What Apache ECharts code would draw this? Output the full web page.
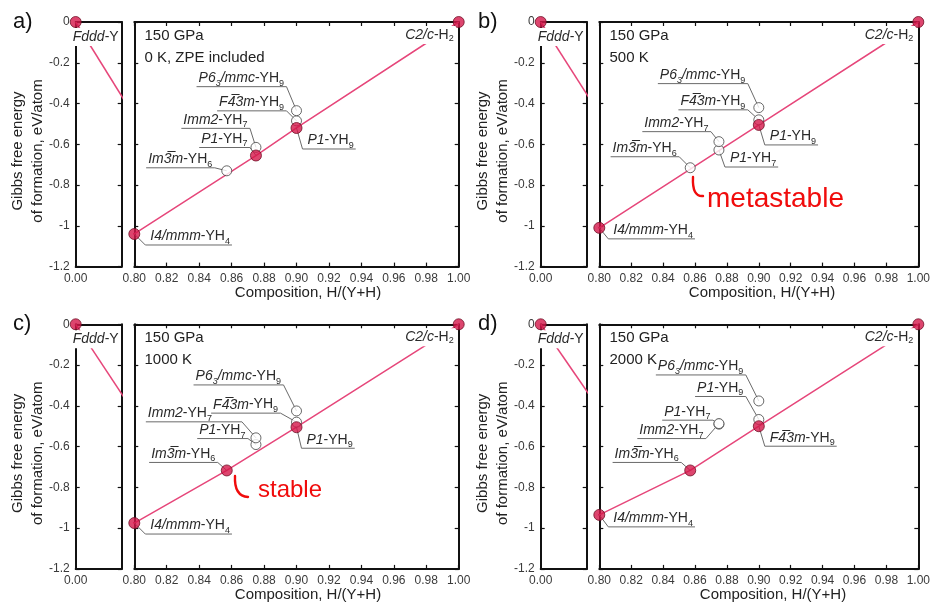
<!DOCTYPE html>
<html>
<head>
<meta charset="utf-8">
<script src="https://cdn.jsdelivr.net/npm/echarts@6/dist/echarts.min.js"></script>
<style>
  html, body { margin: 0; padding: 0; background: #fff; }
  #chart { width: 933px; height: 606px; }
</style>
</head>
<body>
<div id="chart"></div>
<script>
// Convex hulls of the Y–H system at 150 GPa for four temperatures

const panelTags = ['a)', 'b)', 'c)', 'd)'];
const pressureLabel = '150 GPa';
const conditionLabels = ['0 K, ZPE included', '500 K', '1000 K', '2000 K'];

// hydride phases: space group (italic, "_d" = subscript) and formula
const phaseGroups   = ['I4/mmm', 'Im3\u0305m', 'P1', 'Imm2', 'P1', 'F4\u03053m', 'P6_3/mmc'];
const phaseFormulas = ['YH_4', 'YH_6', 'YH_7', 'YH_7', 'YH_9', 'YH_9', 'YH_9'];
const phaseX        = [0.800, 0.857, 0.875, 0.875, 0.900, 0.900, 0.900];

// Gibbs free energy of formation, eV/atom
const energy0K    = [-1.040, -0.730, -0.655, -0.615, -0.520, -0.485, -0.435];
const energy500K  = [-1.010, -0.715, -0.628, -0.587, -0.505, -0.480, -0.420];
const energy1000K = [-0.975, -0.717, -0.590, -0.557, -0.505, -0.480, -0.425];
const energy2000K = [-0.935, -0.717, -0.490, -0.487, -0.467, -0.500, -0.376];

// 1 = phase lies on the hull (stable)
const onHull0K    = [1, 0, 1, 0, 1, 0, 0];
const onHull500K  = [1, 0, 0, 0, 1, 0, 0];
const onHull1000K = [1, 1, 0, 0, 1, 0, 0];
const onHull2000K = [1, 1, 0, 0, 0, 1, 0];

// terminal elements
const elementGroups   = ['Fddd', 'C2/c'];
const elementFormulas = ['Y', 'H_2'];
const elementX        = [0.00, 1.00];
const elementEnergy   = [0, 0];

// tick labels
const xTickLabelsRight = ['0.80', '0.82', '0.84', '0.86', '0.88', '0.90', '0.92', '0.94', '0.96', '0.98', '1.00'];
const xTickLabelLeft   = '0.00';
const yTickLabels      = ['0', '-0.2', '-0.4', '-0.6', '-0.8', '-1', '-1.2'];

const xAxisTitle = 'Composition, H/(Y+H)';
const yAxisTitle = 'Gibbs free energy\nof formation, eV/atom';

// hand-written notes
const noteTexts = ['metastable', 'stable'];

const energies = [energy0K, energy500K, energy1000K, energy2000K];
const onHull   = [onHull0K, onHull500K, onHull1000K, onHull2000K];

// ---------- layout ----------
const FONT = "'Liberation Sans', Arial, Helvetica, sans-serif";
const panelShift = [[0, 0], [465, 0], [0, 302.3], [465, 302.3]];
const leftBox  = { x: 75.7, w: 46, y: 22, h: 244.6 };
const rightBox = { x: 134.3, w: 324.4 };
const xTitleCenter = [308, 297, 308, 308];

// callout leader end relative to the marker: [dx, dy, gap]
const calloutOffsets = [
  [[11, 11], [-12, -3], [-6, -8], [-6, -19], [6, 21], [-10, -10], [-10, -24]],
  [[9, 11], [-11, -11], [6, 17], [-8, -10], [6, 20], [-11, -10], [-11, -24]],
  [[11, 11], [-9, -8], [-8, -6], [-14, -16, 30], [5, 21], [-16, -9], [-13, -26]],
  [[9, 12], [-9, -8], [-6, -4], [-13, 15], [-13, -23], [6, 20], [-13, -26]]
];

const RED_LINE = '#e6467a';
const RED_FILL = '#d4174a';
const RED_EDGE = '#701027';
const AXIS = '#111';
const TEXT = '#2a2a2a';

// ---------- text helpers ----------
const measureCtx = document.createElement('canvas').getContext('2d');
function textWidth(str, font) { measureCtx.font = font; return measureCtx.measureText(str).width; }

const FONTS = {
  i:  'italic 14px ' + FONT,
  is: 'italic 9px ' + FONT,
  n:  '14px ' + FONT,
  s:  '9px ' + FONT
};

function nameTokens(group, formula) {
  const out = [];
  group.split(/_(\d)/).forEach((t, k) => { if (t) out.push({ k: k % 2 ? 'is' : 'i', t }); });
  out.push({ k: 'n', t: '-' });
  formula.split(/_(\d)/).forEach((t, k) => { if (t) out.push({ k: k % 2 ? 's' : 'n', t }); });
  out.forEach(o => { o.w = textWidth(o.t, FONTS[o.k]); });
  return out;
}
const phaseTokens = phaseGroups.map((g, i) => nameTokens(g, phaseFormulas[i]));

function richString(group, formula) {
  return nameTokens(group, formula).map(o => '{' + o.k + '|' + o.t + '}').join('');
}
const plainRich = { color: TEXT, textBorderWidth: 0, textShadowBlur: 0, opacity: 1 };
const labelRich = {
  i:  Object.assign({ fontStyle: 'italic', fontSize: 14, fontFamily: FONT, lineHeight: 16 }, plainRich),
  is: Object.assign({ fontStyle: 'italic', fontSize: 9, fontFamily: FONT, verticalAlign: 'bottom', lineHeight: 10 }, plainRich),
  n:  Object.assign({ fontSize: 14, fontFamily: FONT, lineHeight: 16 }, plainRich),
  s:  Object.assign({ fontSize: 9, fontFamily: FONT, verticalAlign: 'bottom', lineHeight: 10 }, plainRich)
};

// ---------- axes ----------
const yTickValues = yTickLabels.map(Number);
const yMin = Math.min(...yTickValues), yMax = Math.max(...yTickValues);
const yStep = Math.abs(yTickValues[1] - yTickValues[0]);
const xRightValues = xTickLabelsRight.map(Number);
const xRightMin = xRightValues[0], xRightMax = xRightValues[xRightValues.length - 1];
const xRightStep = +(xRightValues[1] - xRightValues[0]).toFixed(4);
const xLeftMin = Number(xTickLabelLeft), xLeftMax = 0.28;

const grids = [], xAxes = [], yAxes = [], series = [], graphics = [];

const lineAxis = { onZero: false, lineStyle: { color: AXIS, width: 2 } };
const innerTick = { inside: true, length: 4, lineStyle: { color: AXIS, width: 1.2 } };

function yLabel(v) {
  const k = yTickValues.findIndex(t => Math.abs(t - v) < 1e-6);
  return k >= 0 ? yTickLabels[k] : '';
}

function elementLabel(k, offset, align) {
  return {
    show: true, position: 'inside', offset, align,
    color: TEXT, textBorderWidth: 0, opacity: 1,
    formatter: richString(elementGroups[k], elementFormulas[k]), rich: labelRich,
    backgroundColor: '#fff', padding: [1, 2, 1, 2]
  };
}

for (let p = 0; p < 4; p++) {
  const [sx, sy] = panelShift[p];
  const gL = grids.length;
  grids.push({ left: sx + leftBox.x, top: sy + leftBox.y, width: leftBox.w, height: leftBox.h });
  const gR = grids.length;
  grids.push({ left: sx + rightBox.x, top: sy + leftBox.y, width: rightBox.w, height: leftBox.h });

  // left (elemental Y) section
  const xL = xAxes.length;
  xAxes.push({
    gridIndex: gL, type: 'value', min: xLeftMin, max: xLeftMax, position: 'bottom',
    axisLine: lineAxis, axisTick: { show: false }, splitLine: { show: false },
    axisLabel: { color: '#3a3a3a', fontSize: 12, fontFamily: FONT, margin: 6,
      formatter: v => Math.abs(v - xLeftMin) < 1e-9 ? xTickLabelLeft : '' }
  });
  xAxes.push({
    gridIndex: gL, type: 'value', min: xLeftMin, max: xLeftMax, position: 'top',
    axisLine: lineAxis, axisTick: { show: false }, axisLabel: { show: false }, splitLine: { show: false }
  });
  const yL = yAxes.length;
  yAxes.push({
    gridIndex: gL, type: 'value', min: yMin, max: yMax, interval: yStep, position: 'left',
    axisLine: lineAxis, axisTick: innerTick, splitLine: { show: false },
    axisLabel: { color: '#3a3a3a', fontSize: 12, fontFamily: FONT, margin: 6, formatter: yLabel }
  });
  yAxes.push({
    gridIndex: gL, type: 'value', min: yMin, max: yMax, interval: yStep, position: 'right',
    axisLine: lineAxis, axisTick: innerTick, axisLabel: { show: false }, splitLine: { show: false }
  });

  // right (hydride) section
  const xR = xAxes.length;
  xAxes.push({
    gridIndex: gR, type: 'value', min: xRightMin, max: xRightMax, interval: xRightStep, position: 'bottom',
    axisLine: lineAxis, axisTick: innerTick, splitLine: { show: false },
    axisLabel: { color: '#3a3a3a', fontSize: 12, fontFamily: FONT, margin: 6, formatter: v => v.toFixed(2) }
  });
  xAxes.push({
    gridIndex: gR, type: 'value', min: xRightMin, max: xRightMax, interval: xRightStep, position: 'top',
    axisLine: lineAxis, axisTick: innerTick, axisLabel: { show: false }, splitLine: { show: false }
  });
  const yR = yAxes.length;
  yAxes.push({
    gridIndex: gR, type: 'value', min: yMin, max: yMax, interval: yStep, position: 'left',
    axisLine: lineAxis, axisTick: innerTick, axisLabel: { show: false }, splitLine: { show: false }
  });
  yAxes.push({
    gridIndex: gR, type: 'value', min: yMin, max: yMax, interval: yStep, position: 'right',
    axisLine: lineAxis, axisTick: innerTick, axisLabel: { show: false }, splitLine: { show: false }
  });

  const E = energies[p], H = onHull[p];

  // hull: Y, stable hydrides, H2
  const hull = [[elementX[0], elementEnergy[0]]];
  phaseX.forEach((x, i) => { if (H[i]) hull.push([x, E[i]]); });
  hull.push([elementX[1], elementEnergy[1]]);
  hull.sort((a, b) => a[0] - b[0]);

  series.push({
    type: 'line', xAxisIndex: xL, yAxisIndex: yL, data: hull.slice(0, 2), clip: true,
    showSymbol: false, symbol: 'none', lineStyle: { color: RED_LINE, width: 1.5 }, z: 2, silent: true
  });
  series.push({
    type: 'line', xAxisIndex: xR, yAxisIndex: yR, data: hull, clip: true,
    showSymbol: false, symbol: 'none', lineStyle: { color: RED_LINE, width: 1.5 }, z: 2, silent: true
  });

  // callouts: leader, underline, name
  const offs = calloutOffsets[p];
  series.push({
    type: 'custom', xAxisIndex: xR, yAxisIndex: yR, z: 3, silent: true,
    data: phaseX.map((x, i) => [x, E[i], i]),
    renderItem: (params, api) => {
      const i = api.value(2);
      const pt = api.coord([api.value(0), api.value(1)]);
      const off = offs[i];
      const toks = phaseTokens[i];
      const w = toks.reduce((s, t) => s + t.w, 0);
      const nx = pt[0] + off[0], ny = pt[1] + off[1];
      const right = off[0] > 0;
      const tx = right ? nx + 5 : nx - (off[2] || 2.5) - w;
      const fx = right ? tx + w + 2 : tx - 2;
      const children = [{
        type: 'polyline',
        shape: { points: [[pt[0], pt[1]], [nx, ny], [fx, ny]] },
        style: { stroke: '#6a6a6a', lineWidth: 1, fill: null }
      }];
      let cx = tx;
      toks.forEach(t => {
        const sub = t.k === 'is' || t.k === 's';
        children.push({
          type: 'text', x: cx, y: ny - (sub ? 3.5 : 8.5),
          style: { text: t.t, font: FONTS[t.k], fill: TEXT,
            align: 'left', verticalAlign: 'middle', textAlign: 'left', textVerticalAlign: 'middle' }
        });
        cx += t.w;
      });
      return { type: 'group', children };
    }
  });

  // metastable / unstable phases
  series.push({
    type: 'scatter', xAxisIndex: xR, yAxisIndex: yR, z: 4, clip: false, silent: true,
    symbol: 'circle', symbolSize: 10,
    itemStyle: { color: '#fff', borderColor: '#444', borderWidth: 1 },
    data: phaseX.map((x, i) => [x, E[i]]).filter((d, i) => !H[i])
  });
  // hull phases
  series.push({
    type: 'scatter', xAxisIndex: xR, yAxisIndex: yR, z: 5, clip: false, silent: true,
    symbol: 'circle', symbolSize: 11,
    itemStyle: { color: RED_FILL, borderColor: RED_EDGE, borderWidth: 1 },
    data: phaseX.map((x, i) => [x, E[i]]).filter((d, i) => H[i])
  });

  // terminal elements
  series.push({
    type: 'scatter', xAxisIndex: xL, yAxisIndex: yL, z: 6, clip: false, silent: true,
    symbol: 'circle', symbolSize: 11,
    itemStyle: { color: RED_FILL, borderColor: RED_EDGE, borderWidth: 1 },
    data: [[elementX[0], elementEnergy[0]]],
    label: elementLabel(0, [20, 15], 'center')
  });
  series.push({
    type: 'scatter', xAxisIndex: xR, yAxisIndex: yR, z: 6, clip: false, silent: true,
    symbol: 'circle', symbolSize: 11,
    itemStyle: { color: RED_FILL, borderColor: RED_EDGE, borderWidth: 1 },
    data: [[elementX[1], elementEnergy[1]]],
    label: elementLabel(1, [-3, 13], 'right')
  });

  // panel texts
  graphics.push({
    type: 'text', x: sx + 13, y: sy + 22, silent: true,
    style: { text: panelTags[p], fontSize: 22, fontFamily: FONT, fill: '#111',
      align: 'left', verticalAlign: 'middle', textAlign: 'left', textVerticalAlign: 'middle' }
  });
  graphics.push({
    type: 'text', x: sx + 144.5, y: sy + 36, silent: true,
    style: { text: pressureLabel, fontSize: 15, fontFamily: FONT, fill: '#222',
      align: 'left', verticalAlign: 'middle', textAlign: 'left', textVerticalAlign: 'middle' }
  });
  graphics.push({
    type: 'text', x: sx + 144.5, y: sy + 58, silent: true,
    style: { text: conditionLabels[p], fontSize: 15, fontFamily: FONT, fill: '#222',
      align: 'left', verticalAlign: 'middle', textAlign: 'left', textVerticalAlign: 'middle' }
  });
  graphics.push({
    type: 'text', x: sx + 28.3, y: sy + 151, rotation: Math.PI / 2, silent: true,
    style: { text: yAxisTitle, fontSize: 15, fontFamily: FONT, fill: '#222', lineHeight: 20,
      align: 'center', verticalAlign: 'middle', textAlign: 'center', textVerticalAlign: 'middle' }
  });
  graphics.push({
    type: 'text', x: sx + xTitleCenter[p], y: sy + 293, silent: true,
    style: { text: xAxisTitle, fontSize: 15, fontFamily: FONT, fill: '#222',
      align: 'center', verticalAlign: 'middle', textAlign: 'center', textVerticalAlign: 'middle' }
  });
}

// hand-written notes in red ink
const INK = '#f00c0c';
graphics.push(
  { type: 'bezierCurve', silent: true,
    shape: { x1: 693, y1: 177, cpx1: 692, cpy1: 197, x2: 703, y2: 196 },
    style: { stroke: INK, lineWidth: 2.4, fill: null, lineCap: 'round' } },
  { type: 'text', x: 707, y: 199, silent: true,
    style: { text: noteTexts[0], fontSize: 28, fontFamily: FONT, fill: INK,
      align: 'left', verticalAlign: 'middle', textAlign: 'left', textVerticalAlign: 'middle' } },
  { type: 'bezierCurve', silent: true,
    shape: { x1: 235, y1: 476, cpx1: 234, cpy1: 496, x2: 248, y2: 497 },
    style: { stroke: INK, lineWidth: 2.4, fill: null, lineCap: 'round' } },
  { type: 'text', x: 258, y: 490, silent: true,
    style: { text: noteTexts[1], fontSize: 24, fontFamily: FONT, fill: INK,
      align: 'left', verticalAlign: 'middle', textAlign: 'left', textVerticalAlign: 'middle' } }
);

const chart = echarts.init(document.getElementById('chart'), null, { renderer: 'canvas' });
chart.setOption({
  backgroundColor: '#fff',
  animation: false,
  grid: grids,
  xAxis: xAxes,
  yAxis: yAxes,
  series,
  graphic: { elements: graphics }
});
</script>
</body>
</html>
